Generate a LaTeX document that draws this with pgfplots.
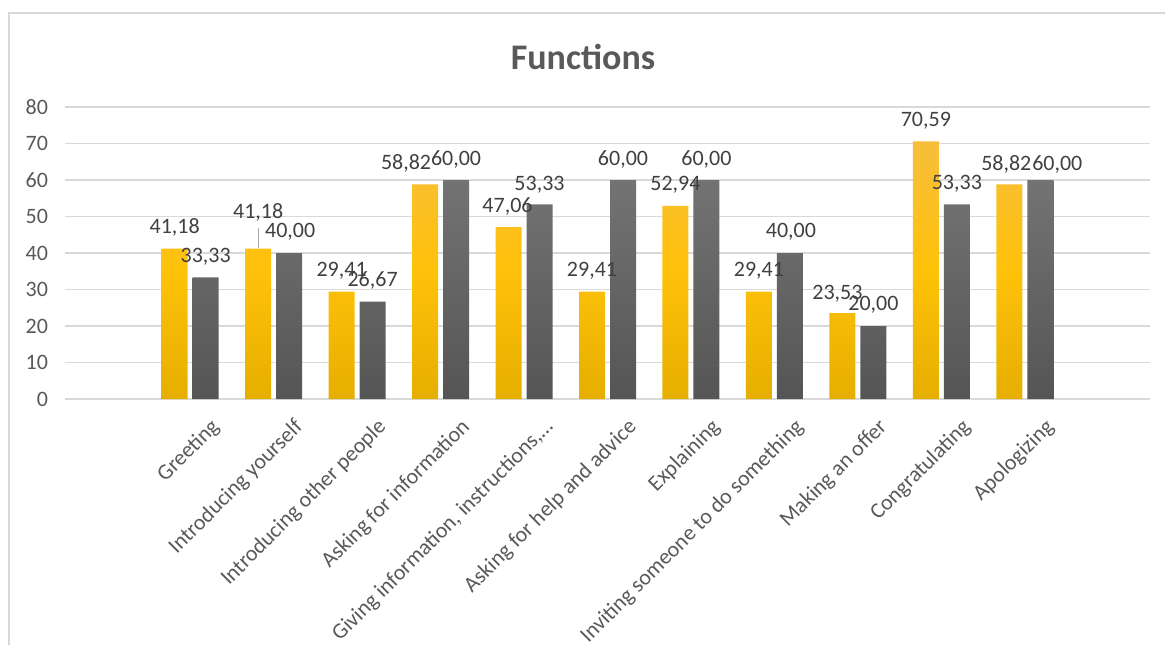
\documentclass[border=0pt]{standalone}
\usepackage{pgfplots}
\usepackage{pgfplotstable}
\pgfplotsset{compat=1.18}
\usepackage{fontspec}
\setmainfont{Carlito}
\definecolor{gridgray}{HTML}{D9D9D9}
\definecolor{tickgray}{HTML}{595959}
\definecolor{labelgray}{HTML}{404040}
\definecolor{ytop}{HTML}{F7BE3C}
\definecolor{ymid}{HTML}{FFC20A}
\definecolor{ybot}{HTML}{E6AE00}
\definecolor{gtop}{HTML}{737373}
\definecolor{gbot}{HTML}{555555}
% x y dx dy  (dx, dy: label offsets in pt)
\pgfplotstableread{
x y dx dy
1 41.18 0 0
2 41.18 0 7.5
3 29.41 0 0
4 58.82 -9.5 0
5 47.06 -0.5 0
6 29.41 0 0
7 52.94 0 0
8 29.41 0 0
9 23.53 -2.5 -0.5
10 70.59 0 0
11 58.82 -1.5 -0.5
}\yellowdata
\pgfplotstableread{
x y dx dy
1 33.33 0 0
2 40.00 0.5 0.5
3 26.67 0 0
4 60.00 0 0
5 53.33 0 -0.5
6 60.00 0 0
7 60.00 0 0
8 40.00 0.5 0.5
9 20.00 0 0.5
10 53.33 0 0
11 60.00 8.5 -2.5
}\graydata
\begin{document}
\begin{tikzpicture}[x=1pt,y=1pt]
\path[use as bounding box] (-32.5,-123) rectangle (550,199.5);
\draw[gridgray, line width=0.8pt] (-28,-123) -- (-28,193) -- (550,193);
\node[font=\fontsize{18}{20}\selectfont\bfseries, text=tickgray] at (259,171) {Functions};
\begin{axis}[
  at={(0,0)}, anchor=south west,
  width=542.5pt, height=146pt, scale only axis,
  xmin=-0.5, xmax=12.5,
  ymin=0, ymax=80, ytick={0,10,...,80},
  xtick={1,2,3,4,5,6,7,8,9,10,11},
  xticklabels={Greeting, Introducing yourself, Introducing other people, Asking for information, {Giving information, instructions,…}, Asking for help and advice, Explaining, Inviting someone to do something, Making an offer, Congratulating, Apologizing},
  axis line style={draw=none},
  major tick length=0pt,
  ymajorgrids, grid style={gridgray, line width=0.75pt},
  /pgf/number format/assume math mode=true,
  yticklabel style={font=\fontsize{11}{13}\selectfont, text=tickgray, xshift=-5pt},
  xticklabel style={font=\fontsize{11}{13}\selectfont, text=tickgray, rotate=45, anchor=north east, inner sep=0pt, xshift=0.5pt, yshift=-13pt},
  every node near coord/.append style={font=\fontsize{11}{13}\selectfont, text=labelgray, anchor=base, inner sep=0pt},
  nodes near coords={\pgfmathprintnumber[fixed,fixed zerofill,precision=2,use comma]{\pgfplotspointmeta}},
]
\addplot[ybar, bar width=13pt, bar shift=-7.75pt, draw=none, top color=ytop, bottom color=ybot, middle color=ymid,
  visualization depends on={\thisrow{dx} \as \ldx},
  visualization depends on={\thisrow{dy} \as \ldy},
  nodes near coords style={xshift={\ldx*1pt - 7.75pt}, yshift={\ldy*1pt + 7.5pt}}]
  table[x=x, y=y] {\yellowdata};
\addplot[ybar, bar width=13pt, bar shift=7.75pt, draw=none, top color=gtop, bottom color=gbot,
  visualization depends on={\thisrow{dx} \as \ldx},
  visualization depends on={\thisrow{dy} \as \ldy},
  nodes near coords style={xshift={\ldx*1pt + 7.75pt}, yshift={\ldy*1pt + 7.5pt}}]
  table[x=x, y=y] {\graydata};
\draw[labelgray!45, line width=0.5pt] ([xshift=-7.75pt,yshift=0.5pt]axis cs:2,41.18) -- ([xshift=-7.75pt,yshift=10.5pt]axis cs:2,41.18);
\end{axis}
\end{tikzpicture}
\end{document}
